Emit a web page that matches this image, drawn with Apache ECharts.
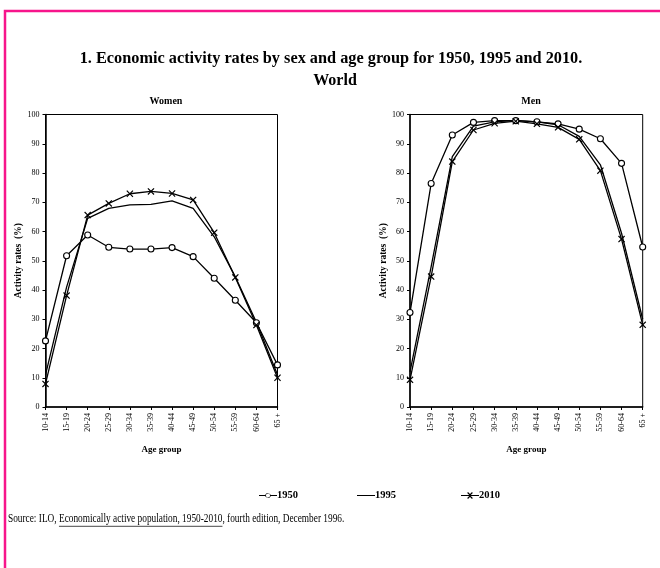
<!DOCTYPE html>
<html><head><meta charset="utf-8">
<script src="https://cdn.jsdelivr.net/npm/echarts@6/dist/echarts.min.js"></script>
<style>html,body{margin:0;padding:0;background:#fff}#c{width:660px;height:568px}</style>
</head><body><div id="c"></div>
<script>
const ageGroups = ['10-14','15-19','20-24','25-29','30-34','35-39','40-44','45-49','50-54','55-59','60-64','65 +'];
const women1950 = [22.6,51.7,58.8,54.6,54.0,54.0,54.5,51.4,44.0,36.5,28.8,14.4];
const women1995 = [11.0,41.0,64.5,67.9,69.1,69.3,70.5,67.9,58.2,44.5,29.0,11.0];
const women2010 = [7.9,38.1,65.6,69.6,72.9,73.7,73.0,70.8,59.6,44.3,28.0,10.0];
const men1950 = [32.3,76.4,93.0,97.3,97.9,97.9,97.5,96.8,95.0,91.7,83.3,54.7];
const men1995 = [12.0,48.0,85.6,96.0,97.5,98.0,97.5,96.5,92.5,82.8,59.4,30.0];
const men2010 = [9.3,44.6,83.9,94.7,97.0,97.7,96.8,95.6,91.5,80.8,57.4,28.1];
const yTicks = [0,10,20,30,40,50,60,70,80,90,100];
const years = ['1950','1995','2010'];
const sourceParts = ['Source: ILO, ', 'Economically active population, 1950-2010', ', fourth edition, December 1996.'];

const serif = 'Liberation Serif';
const crossPath = 'path://M0,1.2L1.2,0L5,3.8L8.8,0L10,1.2L6.2,5L10,8.8L8.8,10L5,6.2L1.2,10L0,8.8L3.8,5Z';
const chart = echarts.init(document.getElementById('c'), null, {renderer:'canvas'});

function xAxis(idx){
  return {type:'category', gridIndex:idx, data:ageGroups, boundaryGap:false,
    axisLine:{lineStyle:{color:'#000',width:1.5}},
    axisTick:{show:true, length:3, lineStyle:{color:'#000'}, alignWithLabel:true},
    axisLabel:{rotate:90, fontFamily:serif, fontSize:8, color:'#000', margin:6, interval:0},
    name:'Age group', nameLocation:'middle', nameGap:38,
    nameTextStyle:{fontFamily:serif, fontSize:9, fontWeight:'bold', color:'#000'},
    splitLine:{show:false}};
}
function yAxis(idx){
  return {type:'value', gridIndex:idx, min:0, max:100, interval:10,
    axisLine:{show:true, lineStyle:{color:'#000',width:1.5}},
    axisTick:{show:true, length:3, lineStyle:{color:'#000'}},
    axisLabel:{fontFamily:serif, fontSize:8, color:'#000', margin:6,
      formatter: v => yTicks.includes(v) ? String(v) : ''},
    splitLine:{show:false},
    name:'Activity rates  (%)', nameLocation:'middle', nameGap:21, nameRotate:90,
    nameTextStyle:{fontFamily:serif, fontSize:9.5, fontWeight:'bold', color:'#000'}};
}
function s(name, data, idx, symbol, size){
  return {name, type:'line', xAxisIndex:idx, yAxisIndex:idx, data,
    symbol, symbolSize:size, showSymbol: symbol!=='none',
    lineStyle:{color:'#000', width:1.3},
    itemStyle:{color: symbol==='circle' ? '#fff' : '#000', borderColor:'#000', borderWidth: symbol==='circle'?1.1:0},
    emphasis:{disabled:true}, animation:false};
}
const iconCircle = 'path://M0,4.6L6.2,4.6A3,3 0 0 1 11.8,4.6L18,4.6L18,5.4L11.8,5.4A3,3 0 0 1 6.2,5.4L0,5.4Z M9,2.9A2.1,2.1 0 1 0 9,7.1A2.1,2.1 0 1 0 9,2.9Z M0,0L0.01,0L0,0.01Z M18,10L17.99,10L18,9.99Z';
const iconLine = 'path://M0,4.55L18,4.55L18,5.45L0,5.45Z M0,0L0.01,0L0,0.01Z M18,10L17.99,10L18,9.99Z';
const iconCross = 'path://M0,4.55L18,4.55L18,5.45L0,5.45Z M6.2,2.4L7,1.6L9,3.6L11,1.6L11.8,2.4L9.8,4.4L9.8,5.6L11.8,7.6L11,8.4L9,6.4L7,8.4L6.2,7.6L8.2,5.6L8.2,4.4Z M0,0L0.01,0L0,0.01Z M18,10L17.99,10L18,9.99Z';
function leg(name, icon, left){
  return {left, top:485, itemWidth:18, itemHeight:10, itemGap:0, icon,
    itemStyle:{color:'#000', borderWidth:0}, lineStyle:{width:0},
    textStyle:{fontFamily:serif, fontSize:10.5, fontWeight:'bold', color:'#000', padding:[0,0,0,-5]},
    data:[{name, icon, itemStyle:{color:'#000', borderWidth:0}}], selectedMode:false};
}

// measure source text pieces for underline placement
const srcFont = '11.5px "Liberation Serif"';
const srcScale = 0.81;
const mctx = document.createElement('canvas').getContext('2d');
mctx.font = srcFont;
const w0 = mctx.measureText(sourceParts[0]).width;
const w1 = mctx.measureText(sourceParts[1]).width;
const srcX = 8, srcY = 513;

chart.setOption({
  backgroundColor:'#fff',
  animation:false,
  title:[
    {text:'1. Economic activity rates by sex and age group for 1950, 1995 and 2010.', left:326, top:46, textAlign:'center',
      textStyle:{fontFamily:serif, fontSize:16.3, fontWeight:'bold', color:'#000'}},
    {text:'World', left:330, top:68, textAlign:'center',
      textStyle:{fontFamily:serif, fontSize:16, fontWeight:'bold', color:'#000'}},
    {text:'Women', left:161, top:91, textAlign:'center',
      textStyle:{fontFamily:serif, fontSize:10, fontWeight:'bold', color:'#000'}},
    {text:'Men', left:526, top:91, textAlign:'center',
      textStyle:{fontFamily:serif, fontSize:10, fontWeight:'bold', color:'#000'}}
  ],
  legend:[leg(years[0], iconCircle, 254), leg(years[1], iconLine, 352), leg(years[2], iconCross, 456)],
  grid:[
    {left:45.5, top:114.5, width:232, height:292.5, show:true, borderColor:'#000', borderWidth:1, backgroundColor:'transparent'},
    {left:410, top:114.5, width:232.7, height:292.5, show:true, borderColor:'#000', borderWidth:1, backgroundColor:'transparent'}
  ],
  xAxis:[xAxis(0), xAxis(1)],
  yAxis:[yAxis(0), yAxis(1)],
  series:[
    s(years[0], women1950, 0, 'circle', 6),
    s(years[1], women1995, 0, 'none', 0),
    s(years[2], women2010, 0, crossPath, 7),
    s(years[0], men1950, 1, 'circle', 6),
    s(years[1], men1995, 1, 'none', 0),
    s(years[2], men2010, 1, crossPath, 7)
  ],
  graphic:[
    {type:'rect', shape:{x:5, y:11, width:700, height:600}, style:{fill:'none', stroke:'#f7158b', lineWidth:2.5}, silent:true},
    {type:'group', x:srcX, y:srcY, scaleX:srcScale, children:[
      {type:'text', x:0, y:0, style:{text:sourceParts.join(''), font:srcFont, fill:'#000'}},
      {type:'line', shape:{x1:w0, y1:13.3, x2:w0+w1, y2:13.3}, style:{stroke:'#000', lineWidth:0.8}, silent:true}
    ]}
  ]
});
</script></body></html>
